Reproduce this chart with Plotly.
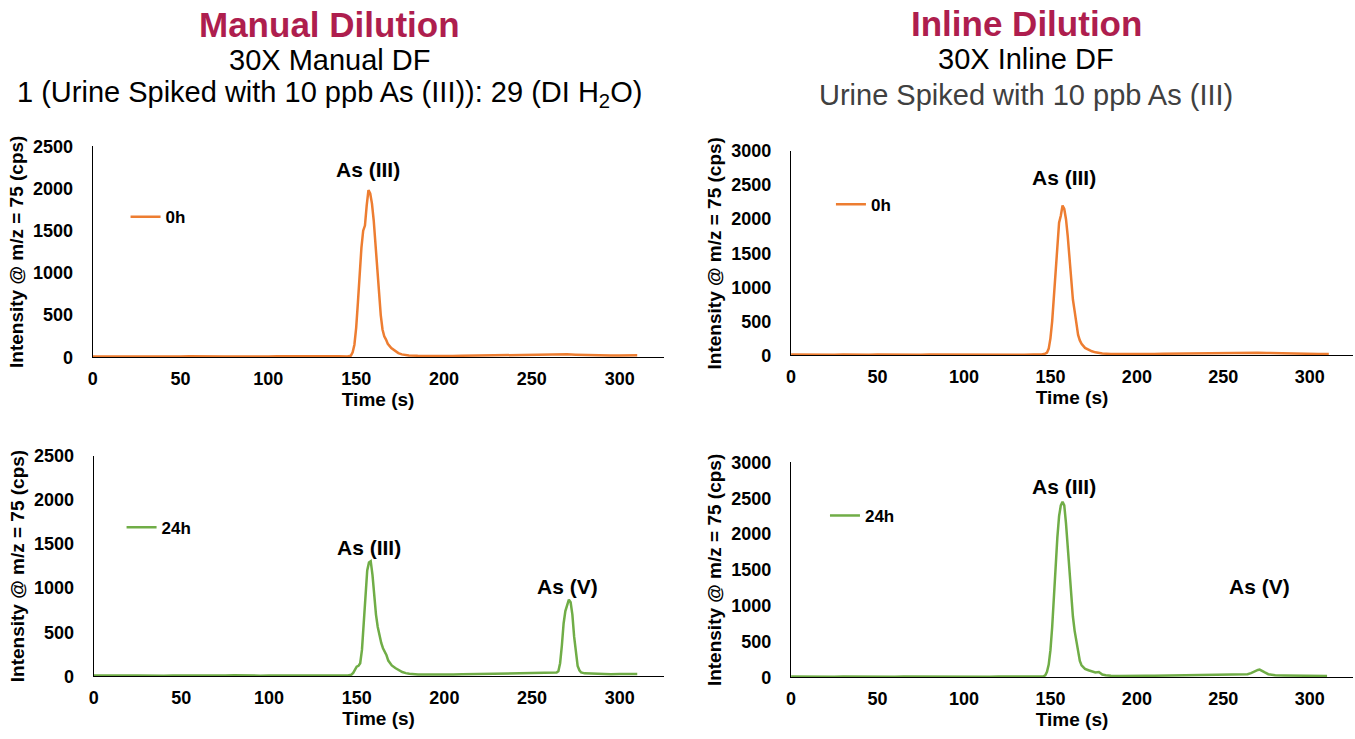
import plotly.graph_objects as go

# ---------------- data ----------------
# Top-left: Manual dilution, 0 h
t_man_0h = [0, 5, 10, 15, 20, 25, 30, 35, 40, 45, 50, 55, 60, 65, 70, 75, 80, 85, 90, 95,
            100, 105, 110, 115, 120, 125, 130, 135, 140, 145, 147, 148, 149, 150, 151, 152,
            153, 154, 155, 156, 157, 158, 159, 160, 161, 162, 163, 164, 165, 166, 167, 168,
            170, 172, 174, 176, 178, 180, 185, 190, 195, 200, 205, 210, 215, 220, 225, 230,
            235, 240, 245, 250, 255, 260, 265, 270, 275, 280, 285, 290, 295, 300, 305, 310]
y_man_0h = [10, 8, 12, 9, 11, 10, 8, 12, 10, 9, 11, 13, 10, 9, 12, 10, 11, 9, 12, 10,
            11, 13, 10, 12, 14, 11, 10, 13, 12, 11, 20, 60, 150, 350, 650, 1000,
            1300, 1500, 1560, 1800, 1980, 1940, 1820, 1620, 1350, 1050, 750, 500, 330, 250, 210, 160,
            110, 75, 50, 35, 28, 22, 18, 16, 15, 14, 15, 18, 20, 24, 26, 25,
            28, 27, 30, 32, 34, 38, 40, 36, 32, 28, 25, 24, 22, 22, 20, 24]

# Top-right: Inline dilution, 0 h
t_inl_0h = [0, 5, 10, 15, 20, 25, 30, 35, 40, 45, 50, 55, 60, 65, 70, 75, 80, 85, 90, 95,
            100, 105, 110, 115, 120, 125, 130, 135, 140, 145, 147, 148, 149, 150, 151, 152,
            153, 154, 155, 156, 157, 158, 159, 160, 161, 162, 163, 164, 165, 166, 167, 168,
            170, 172, 174, 176, 178, 180, 185, 190, 195, 200, 205, 210, 215, 220, 225, 230,
            235, 240, 245, 250, 255, 260, 265, 270, 275, 280, 285, 290, 295, 300, 305, 311]
y_inl_0h = [12, 10, 9, 13, 11, 10, 12, 9, 11, 10, 12, 10, 9, 11, 13, 10, 12, 11, 10, 12,
            14, 11, 10, 12, 11, 13, 12, 11, 12, 13, 25, 40, 100, 250, 500, 850,
            1250, 1650, 1950, 2050, 2200, 2150, 2000, 1750, 1400, 1050, 820, 650, 450, 300, 220, 170,
            110, 80, 60, 45, 35, 28, 22, 20, 18, 18, 20, 22, 24, 26, 28, 30,
            30, 32, 34, 36, 38, 40, 42, 40, 36, 32, 28, 26, 25, 24, 22, 20]

# Bottom-left: Manual dilution, 24 h
t_man_24h = [0, 5, 10, 15, 20, 25, 30, 35, 40, 45, 50, 55, 60, 65, 70, 75, 80, 85, 90, 95,
             100, 105, 110, 115, 120, 125, 130, 135, 140, 145, 147, 148, 149, 150, 151, 152,
             153, 154, 155, 156, 157, 158, 159, 160, 161, 162, 163, 164, 165, 166, 167, 168,
             169, 170, 172, 174, 176, 178, 180, 185, 190, 195, 200, 205, 210, 215, 220, 225,
             230, 235, 240, 245, 250, 255, 260, 263, 264, 265, 266, 267, 268, 269, 270, 271,
             272, 273, 274, 275, 276, 277, 278, 280, 285, 290, 295, 300, 305, 310]
y_man_24h = [10, 8, 9, 11, 10, 12, 9, 10, 8, 11, 10, 9, 12, 10, 8, 11, 13, 10, 12, 9,
             11, 10, 12, 10, 11, 13, 10, 12, 11, 12, 20, 40, 80, 110, 120, 150,
             300, 600, 950, 1200, 1290, 1305, 1150, 900, 700, 560, 450, 380, 320, 280, 240, 180,
             150, 125, 95, 70, 50, 38, 30, 22, 20, 18, 20, 22, 24, 26, 28, 30,
             32, 30, 34, 36, 35, 38, 40, 40, 45, 60, 150, 350, 600, 740, 800, 870,
             840, 700, 450, 250, 120, 70, 45, 35, 30, 28, 26, 27, 25, 28]

# Bottom-right: Inline dilution, 24 h
t_inl_24h = [0, 5, 10, 15, 20, 25, 30, 35, 40, 45, 50, 55, 60, 65, 70, 75, 80, 85, 90, 95,
             100, 105, 110, 115, 120, 125, 130, 135, 140, 145, 146, 147, 148, 149, 150, 151,
             152, 153, 154, 155, 156, 157, 158, 159, 160, 161, 162, 163, 164, 165, 166, 167,
             168, 169, 170, 172, 174, 176, 178, 180, 182, 185, 190, 195, 200, 205, 210, 215,
             220, 225, 230, 235, 240, 245, 250, 255, 260, 264, 266, 268, 270, 271, 272, 274,
             276, 278, 280, 285, 290, 295, 300, 305, 310]
y_inl_24h = [12, 10, 11, 9, 12, 10, 13, 11, 10, 12, 9, 11, 10, 12, 11, 10, 13, 12, 11, 10,
             12, 11, 13, 10, 12, 11, 12, 13, 12, 14, 15, 30, 80, 180, 380, 700,
             1150, 1550, 1950, 2250, 2400, 2450, 2400, 2150, 1800, 1400, 1050, 850, 650, 500, 350, 230,
             170, 140, 120, 100, 85, 70, 75, 40, 30, 22, 20, 18, 20, 22, 24, 26,
             28, 30, 32, 34, 36, 38, 40, 42, 44, 45, 60, 85, 105, 110, 100, 70,
             45, 35, 30, 28, 26, 25, 24, 22, 20]

x_ticks = [0, 50, 100, 150, 200, 250, 300]
y_ticks_manual = [0, 500, 1000, 1500, 2000, 2500]
y_ticks_inline = [0, 500, 1000, 1500, 2000, 2500, 3000]

panel_titles = ["Manual Dilution", "Inline Dilution"]
panel_sub1 = ["30X Manual DF", "30X Inline DF"]
panel_sub2 = ["1 (Urine Spiked with 10 ppb As (III)): 29 (DI H<sub>2</sub>O)",
              "Urine Spiked with 10 ppb As (III)"]

# ---------------- styling ----------------
W, H = 1355, 739
ORANGE = "#ED7D31"
GREEN = "#70AD47"
CRIMSON = "#AE1E4E"
FONT = "Liberation Sans, Arial, sans-serif"

def px_x(p):
    return p / W

def px_y(p):
    return 1 - p / H

fig = go.Figure()

traces = [
    (t_man_0h, y_man_0h, "0h", ORANGE, "x", "y", "legend"),
    (t_inl_0h, y_inl_0h, "0h", ORANGE, "x2", "y2", "legend2"),
    (t_man_24h, y_man_24h, "24h", GREEN, "x3", "y3", "legend3"),
    (t_inl_24h, y_inl_24h, "24h", GREEN, "x4", "y4", "legend4"),
]
for tx, ty, name, col, xa, ya, lg in traces:
    fig.add_trace(go.Scatter(x=tx, y=ty, mode="lines", name=name,
                             line=dict(color=col, width=2.5),
                             xaxis=xa, yaxis=ya, legend=lg, showlegend=True))

# plot areas in pixels: (x0, x1, ytop, ybottom)
areas = {
    1: (88, 661, 140, 357),
    2: (789, 1353, 145, 355),
    3: (89, 661, 458, 685),
    4: (789, 1353, 465, 686),
}
yranges = {1: 2500, 2: 3000, 3: 2500, 4: 3000}
yticks = {1: y_ticks_manual, 2: y_ticks_inline, 3: y_ticks_manual, 4: y_ticks_inline}

tick_font = dict(family=FONT, size=18, color="#000000", weight="bold")
title_font = dict(family=FONT, size=19, color="#000000", weight="bold")

layout = {}
for i in range(1, 5):
    x0, x1, yt, yb = areas[i]
    sx = "" if i == 1 else str(i)
    layout["xaxis" + sx] = dict(
        domain=[px_x(x0), px_x(x1)], range=[0, 325], anchor="y" + sx,
        tickvals=x_ticks, showgrid=False, zeroline=False,
        showline=True, linecolor="#000000", linewidth=1.2,
        ticks="outside", ticklen=5, tickcolor="rgba(0,0,0,0)",
        tickfont=tick_font,
        title=dict(text="Time (s)", font=title_font, standoff=0),
    )
    layout["yaxis" + sx] = dict(
        domain=[px_y(yb), px_y(yt)], range=[0, yranges[i]], anchor="x" + sx,
        tickvals=yticks[i], showgrid=False, zeroline=False,
        showline=True, linecolor="#000000", linewidth=1.2,
        ticks="outside", ticklen=15, tickcolor="rgba(0,0,0,0)",
        tickfont=tick_font,
        title=dict(text="Intensity @ m/z = 75 (cps)", font=title_font, standoff=4),
    )

legend_pos = {"legend": (121, 213), "legend2": (829, 200), "legend3": (117, 532), "legend4": (823, 520)}
for lg, (lx, ly) in legend_pos.items():
    layout[lg] = dict(x=px_x(lx), y=px_y(ly), xanchor="left", yanchor="middle",
                      bgcolor="rgba(0,0,0,0)", borderwidth=0,
                      font=dict(family=FONT, size=17, color="#000000", weight="bold"),
                      itemwidth=30)

annotations = []
# panel headings
centers = [326, 1025]
line_y = [[15, 51, 86], [14, 50, 87]]
for k in range(2):
    annotations.append(dict(text=panel_titles[k], x=px_x(centers[k]), y=px_y(line_y[k][0]),
                            xref="paper", yref="paper", showarrow=False, xanchor="center", yanchor="middle",
                            font=dict(family=FONT, size=35, color=CRIMSON, weight="bold")))
    annotations.append(dict(text=panel_sub1[k], x=px_x(centers[k]), y=px_y(line_y[k][1]),
                            xref="paper", yref="paper", showarrow=False, xanchor="center", yanchor="middle",
                            font=dict(family=FONT, size=29, color="#000000")))
    annotations.append(dict(text=panel_sub2[k], x=px_x(centers[k]), y=px_y(line_y[k][2]),
                            xref="paper", yref="paper", showarrow=False, xanchor="center", yanchor="middle",
                            font=dict(family=FONT, size=29, color="#000000" if k == 0 else "#404040")))

# peak labels (data coordinates)
peak_labels = [
    ("As (III)", 157, 2220, "x", "y"),
    ("As (III)", 158, 2610, "x2", "y2"),
    ("As (III)", 157, 1465, "x3", "y3"),
    ("As (V)", 270, 1014, "x3", "y3"),
    ("As (III)", 158, 2665, "x4", "y4"),
    ("As (V)", 271, 1272, "x4", "y4"),
]
for txt, ax, ay, xr, yr in peak_labels:
    annotations.append(dict(text=txt, x=ax, y=ay, xref=xr, yref=yr,
                            showarrow=False, xanchor="center", yanchor="middle",
                            font=dict(family=FONT, size=21, color="#000000", weight="bold")))

fig.update_layout(
    width=W, height=H,
    margin=dict(l=0, r=0, t=0, b=0),
    paper_bgcolor="#FFFFFF", plot_bgcolor="#FFFFFF",
    annotations=annotations,
    **layout,
)

fig.write_html("out.html")
